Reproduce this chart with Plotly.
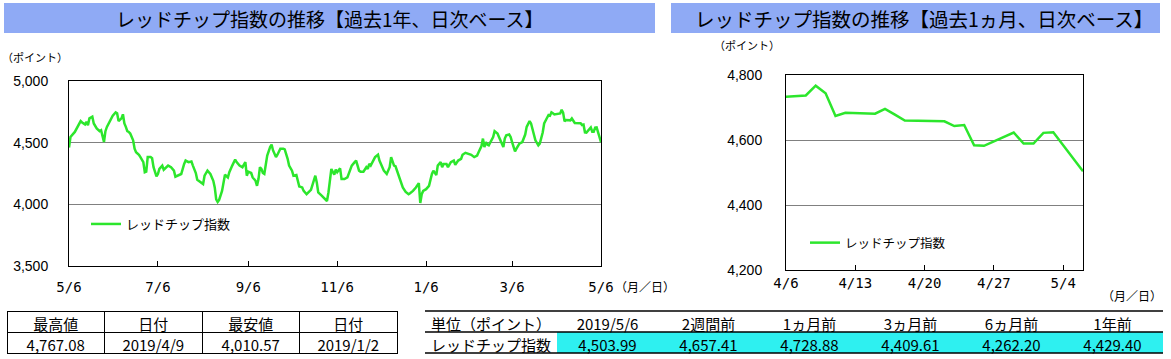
import plotly.graph_objects as go

W, H = 1171, 359
JP = "Noto Sans CJK JP"
NUM = "Liberation Sans"
MONO = "DejaVu Sans Mono"
GREEN = "#2CE62C"
BAR = "#8FAAF5"

# ---------------- data ----------------
year_dates = [
    "2018-05-06", "2018-05-07", "2018-05-10", "2018-05-12", "2018-05-14", "2018-05-15", "2018-05-17",
    "2018-05-18", "2018-05-19", "2018-05-20", "2018-05-22", "2018-05-23", "2018-05-25", "2018-05-27",
    "2018-05-28", "2018-05-30", "2018-05-31", "2018-06-01", "2018-06-03", "2018-06-05", "2018-06-07",
    "2018-06-08", "2018-06-09", "2018-06-10", "2018-06-11", "2018-06-12", "2018-06-13", "2018-06-14",
    "2018-06-15", "2018-06-16", "2018-06-17", "2018-06-19", "2018-06-20", "2018-06-21", "2018-06-23",
    "2018-06-24", "2018-06-26", "2018-06-27", "2018-06-28", "2018-06-29", "2018-07-01", "2018-07-02",
    "2018-07-03", "2018-07-05", "2018-07-06", "2018-07-07", "2018-07-09", "2018-07-10", "2018-07-12",
    "2018-07-13", "2018-07-15", "2018-07-17", "2018-07-18", "2018-07-21", "2018-07-22", "2018-07-24",
    "2018-07-25", "2018-07-27", "2018-07-29", "2018-07-30", "2018-08-01", "2018-08-02", "2018-08-04",
    "2018-08-06", "2018-08-07", "2018-08-09", "2018-08-11", "2018-08-13", "2018-08-14", "2018-08-15",
    "2018-08-16", "2018-08-17", "2018-08-19", "2018-08-20", "2018-08-21", "2018-08-23", "2018-08-24",
    "2018-08-26", "2018-08-28", "2018-08-29", "2018-08-31", "2018-09-02", "2018-09-03", "2018-09-04",
    "2018-09-05", "2018-09-06", "2018-09-08", "2018-09-09", "2018-09-11", "2018-09-12", "2018-09-13",
    "2018-09-14", "2018-09-15", "2018-09-16", "2018-09-17", "2018-09-18", "2018-09-19", "2018-09-21",
    "2018-09-22", "2018-09-23", "2018-09-25", "2018-09-26", "2018-09-28", "2018-09-30", "2018-10-01",
    "2018-10-03", "2018-10-04", "2018-10-06", "2018-10-07", "2018-10-09", "2018-10-10", "2018-10-11",
    "2018-10-13", "2018-10-14", "2018-10-16", "2018-10-17", "2018-10-19", "2018-10-20", "2018-10-22",
    "2018-10-23", "2018-10-24", "2018-10-26", "2018-10-27", "2018-10-29", "2018-10-30", "2018-10-31",
    "2018-11-01", "2018-11-02", "2018-11-04", "2018-11-05", "2018-11-06", "2018-11-08", "2018-11-09",
    "2018-11-11", "2018-11-13", "2018-11-14", "2018-11-16", "2018-11-18", "2018-11-19", "2018-11-21",
    "2018-11-22", "2018-11-24", "2018-11-26", "2018-11-27", "2018-11-28", "2018-11-29", "2018-11-30",
    "2018-12-02", "2018-12-04", "2018-12-05", "2018-12-07", "2018-12-08", "2018-12-10", "2018-12-12",
    "2018-12-13", "2018-12-14", "2018-12-15", "2018-12-16", "2018-12-18", "2018-12-20", "2018-12-21",
    "2018-12-23", "2018-12-25", "2018-12-26", "2018-12-28", "2018-12-30", "2018-12-31", "2019-01-01",
    "2019-01-02", "2019-01-03", "2019-01-04", "2019-01-06", "2019-01-08", "2019-01-09", "2019-01-10",
    "2019-01-11", "2019-01-13", "2019-01-14", "2019-01-16", "2019-01-17", "2019-01-18", "2019-01-20",
    "2019-01-21", "2019-01-23", "2019-01-25", "2019-01-26", "2019-01-28", "2019-01-30", "2019-01-31",
    "2019-02-02", "2019-02-05", "2019-02-06", "2019-02-08", "2019-02-10", "2019-02-11", "2019-02-13",
    "2019-02-14", "2019-02-15", "2019-02-16", "2019-02-17", "2019-02-18", "2019-02-19", "2019-02-21",
    "2019-02-22", "2019-02-24", "2019-02-25", "2019-02-27", "2019-02-28", "2019-03-01", "2019-03-02",
    "2019-03-04", "2019-03-05", "2019-03-06", "2019-03-08", "2019-03-09", "2019-03-11", "2019-03-13",
    "2019-03-15", "2019-03-16", "2019-03-18", "2019-03-19", "2019-03-21", "2019-03-22", "2019-03-24",
    "2019-03-25", "2019-03-27", "2019-03-28", "2019-03-30", "2019-03-31", "2019-04-01", "2019-04-02",
    "2019-04-03",
]
year_values = [
    4460, 4546, 4587, 4628, 4675, 4664, 4648,
    4669, 4642, 4697, 4710, 4656, 4615, 4593,
    4601, 4505, 4593, 4628, 4669, 4719, 4746,
    4738, 4675, 4683, 4697, 4730, 4656, 4628,
    4593, 4587, 4574, 4519, 4451, 4423, 4402,
    4383, 4342, 4260, 4265, 4383, 4383, 4374,
    4301, 4227, 4246, 4287, 4314, 4281, 4309,
    4314, 4301, 4273, 4224, 4238, 4246, 4328,
    4355, 4342, 4347, 4314, 4254, 4200, 4180,
    4164, 4232, 4273, 4246, 4191, 4137, 4041,
    4019, 4036, 4109, 4178, 4240, 4218, 4260,
    4314, 4363, 4342, 4314, 4301, 4328, 4342,
    4232, 4265, 4254, 4218, 4191, 4150, 4205,
    4301, 4287, 4254, 4246, 4314, 4396, 4464,
    4484, 4437, 4383, 4402, 4451, 4451, 4445,
    4369, 4314, 4273, 4232, 4238, 4191, 4145,
    4137, 4109, 4082, 4096, 4118, 4156, 4232,
    4178, 4096, 4074, 4063, 4041, 4027, 4096,
    4218, 4287, 4240, 4281, 4260, 4292, 4205,
    4205, 4218, 4246, 4314, 4342, 4355, 4273,
    4265, 4265, 4301, 4287, 4328, 4314, 4342,
    4383, 4402, 4355, 4301, 4273, 4246, 4301,
    4383, 4342, 4314, 4309, 4246, 4178, 4137,
    4101, 4082, 4090, 4109, 4137, 4150, 4172,
    4010.57, 4082, 4109, 4123, 4150, 4205, 4246,
    4273, 4238, 4314, 4342, 4301, 4328, 4328,
    4301, 4342, 4355, 4320, 4355, 4369, 4402,
    4418, 4410, 4402, 4383, 4396, 4423, 4473,
    4533, 4464, 4505, 4484, 4478, 4505, 4546,
    4593, 4574, 4546, 4492, 4464, 4533, 4560,
    4566, 4546, 4505, 4429, 4451, 4492, 4505,
    4566, 4628, 4675, 4656, 4574, 4519, 4478,
    4492, 4582, 4656, 4702, 4724, 4719, 4746,
    4738,
]

month_dates = [
    "2019-04-04", "2019-04-08", "2019-04-09", "2019-04-10", "2019-04-11", "2019-04-12", "2019-04-15",
    "2019-04-16", "2019-04-17", "2019-04-18", "2019-04-22", "2019-04-23", "2019-04-24", "2019-04-25",
    "2019-04-26", "2019-04-29", "2019-04-30", "2019-05-01", "2019-05-02", "2019-05-03", "2019-05-06",
]
month_values = [
    4728.88, 4737, 4767.08, 4744, 4674, 4684, 4681,
    4696, 4678, 4660, 4657.41, 4643, 4646, 4584,
    4582, 4623, 4589, 4589, 4622, 4624, 4503.99,
]

year_tickvals = ["2018-05-06", "2018-07-06", "2018-09-06", "2018-11-06", "2019-01-06", "2019-03-06", "2019-05-06"]
year_ticktext = ["5/6", "7/6", "9/6", "11/6", "1/6", "3/6", "5/6"]
month_tickvals = ["2019-04-06", "2019-04-13", "2019-04-20", "2019-04-27", "2019-05-04"]
month_ticktext = ["4/6", "4/13", "4/20", "4/27", "5/4"]

series_name = "レッドチップ指数"
title_year = "レッドチップ指数の推移【過去1年、日次ベース】"
title_month = "レッドチップ指数の推移【過去1ヵ月、日次ベース】"

hl_header = ["最高値", "日付", "最安値", "日付"]
hl_values = ["4,767.08", "2019/4/9", "4,010.57", "2019/1/2"]

cmp_header = ["単位（ポイント）", "2019/5/6", "2週間前", "1ヵ月前", "3ヵ月前", "6ヵ月前", "1年前"]
cmp_values = ["レッドチップ指数", "4,503.99", "4,657.41", "4,728.88", "4,409.61", "4,262.20", "4,429.40"]


# ---------------- helpers ----------------
def px(x):
    return x / W


def py(y):
    return 1 - y / H


fig = go.Figure()

fig.add_trace(go.Scatter(
    x=year_dates + month_dates, y=year_values + month_values,
    mode="lines", name=series_name, line=dict(color=GREEN, width=2.5),
    xaxis="x", yaxis="y", legend="legend", hoverinfo="skip",
))
fig.add_trace(go.Scatter(
    x=month_dates, y=month_values,
    mode="lines", name=series_name, line=dict(color=GREEN, width=2.5),
    xaxis="x2", yaxis="y2", legend="legend2", hoverinfo="skip",
))

# tables
fig.add_trace(go.Table(
    domain=dict(x=[px(7), px(397)], y=[0, py(311)]),
    columnwidth=[1, 1, 1, 1],
    header=dict(values=hl_header, height=21, align="center",
                line=dict(color="black", width=1), fill=dict(color="white"),
                font=dict(family=JP, size=15, color="black")),
    cells=dict(values=[[v] for v in hl_values], height=21, align="center",
               line=dict(color="black", width=1), fill=dict(color="white"),
               font=dict(family=JP, size=15, color="black")),
))
cyan = "#2EF0F0"
fig.add_trace(go.Table(
    domain=dict(x=[px(425), px(1163)], y=[0, py(311)]),
    columnwidth=[132, 101, 101, 101, 101, 101, 101],
    header=dict(values=cmp_header, height=21, align="center",
                line=dict(color="rgba(0,0,0,0)", width=0), fill=dict(color="white"),
                font=dict(family=JP, size=15, color="black")),
    cells=dict(values=[[v] for v in cmp_values], height=21, align="center",
               line=dict(color="rgba(0,0,0,0)", width=0),
               fill=dict(color=["white"] + [cyan] * 6),
               font=dict(family=JP, size=15, color="black")),
))

axis_common = dict(showline=True, linecolor="black", linewidth=1, mirror=True,
                   zeroline=False, fixedrange=True, automargin=False)

fig.update_layout(
    width=W, height=H, autosize=False,
    margin=dict(l=0, r=0, t=0, b=0, pad=0, autoexpand=False),
    paper_bgcolor="white", plot_bgcolor="white",
    showlegend=True,
    xaxis=dict(domain=[px(69), px(601)], type="date", range=["2018-05-06", "2019-05-06"],
               tickvals=year_tickvals, ticktext=year_ticktext, ticks="inside", ticklen=5,
               tickcolor="black", showgrid=False, anchor="y",
               tickfont=dict(family=MONO, size=14, color="black"), ticklabelstandoff=8,
               **axis_common),
    yaxis=dict(domain=[py(266), py(81)], range=[3500, 5000], dtick=500, tickformat=",",
               showgrid=True, gridcolor="#808080", gridwidth=1, ticks="", anchor="x",
               tickfont=dict(family=NUM, size=14, color="black"), ticklabelstandoff=17,
               **axis_common),
    xaxis2=dict(domain=[px(786), px(1083)], type="date", range=["2019-04-06", "2019-05-06"],
                tickvals=month_tickvals, ticktext=month_ticktext, ticks="inside", ticklen=5,
                tickcolor="black", showgrid=False, anchor="y2",
                tickfont=dict(family=MONO, size=14, color="black"), ticklabelstandoff=0,
                **axis_common),
    yaxis2=dict(domain=[py(270), py(75)], range=[4200, 4800], dtick=200, tickformat=",",
                showgrid=True, gridcolor="#808080", gridwidth=1, ticks="", anchor="x2",
                tickfont=dict(family=NUM, size=14, color="black"), ticklabelstandoff=20,
                **axis_common),
    legend=dict(x=px(86), y=py(224), xanchor="left", yanchor="middle",
                bgcolor="rgba(0,0,0,0)", borderwidth=0,
                font=dict(family=JP, size=13, color="black")),
    legend2=dict(x=px(805), y=py(243), xanchor="left", yanchor="middle",
                 bgcolor="rgba(0,0,0,0)", borderwidth=0,
                 font=dict(family=JP, size=12.5, color="black")),
)

# title bars
fig.add_shape(type="rect", xref="paper", yref="paper", x0=px(4), x1=px(655), y0=py(33), y1=py(3),
              fillcolor=BAR, line=dict(width=0), layer="below")
fig.add_shape(type="rect", xref="paper", yref="paper", x0=px(671), x1=px(1160), y0=py(33), y1=py(3),
              fillcolor=BAR, line=dict(width=0), layer="below")

# comparison table horizontal rules
for yy in (311, 332, 353):
    fig.add_shape(type="line", xref="paper", yref="paper", x0=px(425), x1=px(1163), y0=py(yy), y1=py(yy),
                  line=dict(color="black", width=1.3))


def note(text, x, y, size, anchor="center", family=JP):
    fig.add_annotation(text=text, xref="paper", yref="paper", x=px(x), y=py(y),
                       xanchor=anchor, yanchor="middle", showarrow=False,
                       font=dict(family=family, size=size, color="black"))


note(title_year, 330, 18, 19)
note(title_month, 924, 18, 19.5)
note("（ポイント）", 0, 57, 11, anchor="left")
note("（ポイント）", 712, 45, 11, anchor="left")
note("（月／日）", 645, 286, 12)
note("（月／日）", 1132, 295, 12)

fig.write_html(
    "out.html",
    config={"displayModeBar": False, "staticPlot": True},
    post_script="document.body.style.margin='0';document.documentElement.style.overflow='hidden';",
)
